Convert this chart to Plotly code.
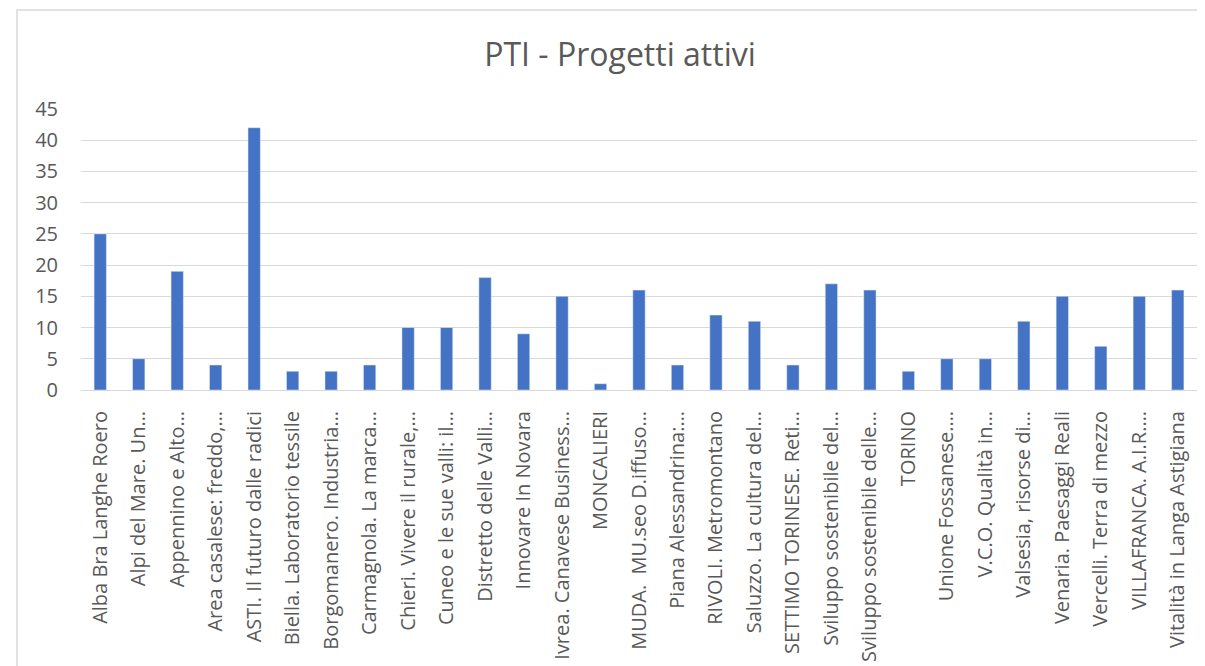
import plotly.graph_objects as go

categories = [
    "Alba Bra Langhe Roero",
    "Alpi del Mare. Un…",
    "Appennino e Alto…",
    "Area casalese: freddo,…",
    "ASTI. Il futuro dalle radici",
    "Biella. Laboratorio tessile",
    "Borgomanero. Industria…",
    "Carmagnola. La marca…",
    "Chieri. Vivere il rurale,…",
    "Cuneo e le sue valli: il…",
    "Distretto delle Valli…",
    "Innovare In Novara",
    "Ivrea. Canavese Business…",
    "MONCALIERI",
    "MUDA.  MU.seo D.iffuso…",
    "Piana Alessandrina:…",
    "RIVOLI. Metromontano",
    "Saluzzo. La cultura del…",
    "SETTIMO TORINESE. Reti…",
    "Sviluppo sostenibile del…",
    "Sviluppo sostenibile delle…",
    "TORINO",
    "Unione Fossanese.…",
    "V.C.O. Qualità in…",
    "Valsesia, risorse di…",
    "Venaria. Paesaggi Reali",
    "Vercelli. Terra di mezzo",
    "VILLAFRANCA. A.I.R.…",
    "Vitalità in Langa Astigiana",
]
values = [25, 5, 19, 4, 42, 3, 3, 4, 10, 10, 18, 9, 15, 1, 16, 4, 12, 11, 4,
          17, 16, 3, 5, 5, 11, 15, 7, 15, 16]
y_ticks = [0, 5, 10, 15, 20, 25, 30, 35, 40, 45]

# page body has an 8px default margin: work in page pixels, convert to figure pixels
OFF = 8
W, H = 1205 - OFF, 666 - OFF
plot_left, plot_right, plot_top, plot_bottom = 81 - OFF, 1197 - OFF, 109 - OFF, 390 - OFF
ml, mr, mt, mb = plot_left, W - plot_right, plot_top, H - plot_bottom
pw = plot_right - plot_left
ph = plot_bottom - plot_top

def px_x(page_px):
    return (page_px - OFF - plot_left) / pw

def px_y(page_py):
    return (plot_bottom - (page_py - OFF)) / ph

font = "Open Sans, Segoe UI, sans-serif"
grey = "#595959"

fig = go.Figure(go.Bar(
    x=categories, y=values, marker_color="#4472C4", width=0.32,
))

fig.update_layout(
    width=W, height=H,
    margin=dict(l=ml, r=mr, t=mt, b=mb, autoexpand=False),
    paper_bgcolor="white", plot_bgcolor="white",
    showlegend=False,
    font=dict(family=font, color=grey, size=20),
    title=dict(text="PTI - Progetti attivi", x=px_x(620), xref="paper",
               y=1 - (55 - OFF) / H, yref="container", xanchor="center", yanchor="middle",
               font=dict(size=32, color=grey, family=font)),
)
fig.update_xaxes(
    tickangle=-90, showgrid=False, showline=True, linecolor="#d9d9d9", linewidth=1,
    ticks="", ticklabelstandoff=12, tickfont=dict(size=20, color=grey),
    range=[-0.5, len(categories) - 0.5],
)
fig.update_yaxes(
    range=[0, 45], tickvals=y_ticks, showgrid=True, gridcolor="#d9d9d9", gridwidth=1,
    zeroline=False, showline=False, ticks="", ticklabelstandoff=22,
    tickfont=dict(size=20, color=grey),
)
fig.add_shape(type="rect", xref="paper", yref="paper",
              x0=px_x(17), x1=px_x(1230), y0=px_y(700), y1=px_y(10),
              line=dict(color="#d9d9d9", width=1.5), fillcolor="rgba(0,0,0,0)", layer="below")

fig.write_html("out.html")
